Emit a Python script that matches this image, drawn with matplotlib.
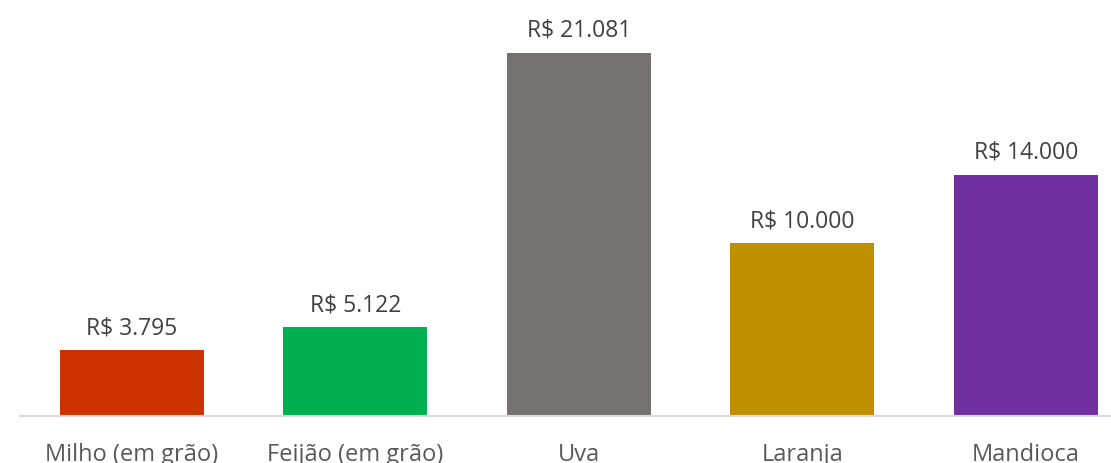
import matplotlib
matplotlib.use("Agg")
import matplotlib.pyplot as plt

categories = ["Milho (em grão)", "Feijão (em grão)", "Uva", "Laranja", "Mandioca"]
values = [3795, 5122, 21081, 10000, 14000]
labels = ["R$ 3.795", "R$ 5.122", "R$ 21.081", "R$ 10.000", "R$ 14.000"]
colors = ["#CC3300", "#00B050", "#767171", "#BF9000", "#7030A0"]

W, H = 1111, 464
fig = plt.figure(figsize=(W/100, H/100), dpi=100)
left = 20 / W
width = 1117.5 / W
bottom = (H - 416.5) / H
height = 413 / H
ax = fig.add_axes([left, bottom, width, height])

x = range(len(categories))
ax.bar(x, values, width=0.645, color=colors, zorder=2)
ax.set_xlim(-0.5, 4.5)
ax.set_ylim(0, 24000)

for xi, v, lab in zip(x, values, labels):
    ax.annotate(lab, (xi, v), xytext=(0, 8), textcoords="offset points",
                ha="center", va="bottom", fontsize=16.5, color="#404040",
                family="Open Sans")

ax.set_xticks(list(x))
ax.set_xticklabels(categories, fontsize=17, color="#595959", family="Open Sans")
ax.tick_params(axis="x", length=0, pad=19)
ax.set_yticks([])
for s in ["top", "right", "left"]:
    ax.spines[s].set_visible(False)
ax.spines["bottom"].set_color("#D9D9D9")
ax.spines["bottom"].set_linewidth(1.5)

fig.savefig("out.png", dpi=100)
